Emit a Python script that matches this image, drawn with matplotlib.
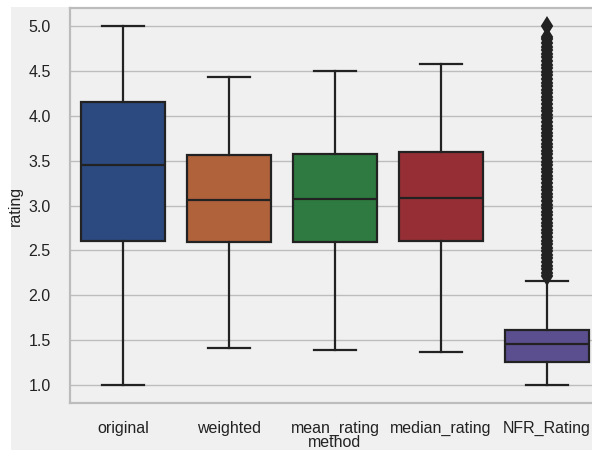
import matplotlib
matplotlib.use("Agg")
import matplotlib.pyplot as plt
from matplotlib.patches import Rectangle

plt.rcParams['font.family'] = ['Liberation Sans', 'DejaVu Sans']

# box statistics
methods = ["original", "weighted", "mean_rating", "median_rating", "NFR_Rating"]
whislo = [1.00, 1.41, 1.385, 1.363, 1.004]
q1 = [2.60, 2.59, 2.59, 2.60, 1.256]
med = [3.45, 3.056, 3.067, 3.086, 1.452]
q3 = [4.15, 3.563, 3.57, 3.60, 1.611]
whishi = [5.00, 4.43, 4.50, 4.574, 2.159]
colors = ["#2c4a80", "#b0623a", "#2e7a40", "#962f35", "#5c4f90"]

# outliers of NFR_Rating (dense column up to ~4.9, a single one at 5.0)
nfr_fliers = [2.21, 2.25, 2.29, 2.33, 2.37, 2.41, 2.45, 2.49, 2.53, 2.57,
              2.61, 2.65, 2.69, 2.73, 2.77, 2.81, 2.85, 2.89, 2.93, 2.97,
              3.01, 3.05, 3.09, 3.13, 3.17, 3.21, 3.25, 3.29, 3.33, 3.37,
              3.41, 3.45, 3.49, 3.53, 3.57, 3.61, 3.65, 3.69, 3.73, 3.77,
              3.81, 3.85, 3.89, 3.93, 3.97, 4.01, 4.05, 4.09, 4.13, 4.17,
              4.21, 4.25, 4.29, 4.33, 4.37, 4.41, 4.45, 4.49, 4.53, 4.57,
              4.61, 4.65, 4.69, 4.73, 4.77, 4.81, 4.85, 4.88, 5.00]
fliers = [[], [], [], [], nfr_fliers]

stats = []
for i in range(len(methods)):
    stats.append({"label": methods[i], "whislo": whislo[i], "q1": q1[i],
                  "med": med[i], "q3": q3[i], "whishi": whishi[i],
                  "fliers": fliers[i]})

fig = plt.figure(figsize=(5.92, 4.5), dpi=100, facecolor="white")
fig.patches.append(Rectangle((11 / 592, 0), 1, 443 / 450, transform=fig.transFigure,
                             facecolor="#f0f0f0", edgecolor="none", zorder=-10))
ax = fig.add_axes([70 / 592, 47 / 450, 530 / 592, 395 / 450])
ax.set_facecolor("#f0f0f0")

edge = "#222222"
bp = ax.bxp(stats, positions=range(len(methods)), widths=0.8, patch_artist=True,
            showfliers=True,
            boxprops=dict(edgecolor=edge, linewidth=1.6),
            whiskerprops=dict(color=edge, linewidth=1.6),
            capprops=dict(color=edge, linewidth=1.6),
            medianprops=dict(color=edge, linewidth=1.6),
            flierprops=dict(marker="d", markersize=8, markerfacecolor=edge,
                            markeredgecolor=edge, markeredgewidth=1.5,
                            linestyle="none"),
            zorder=3)
for patch, c in zip(bp["boxes"], colors):
    patch.set_facecolor(c)
for cap in bp["caps"]:
    x = cap.get_xdata()
    mid = (x[0] + x[1]) / 2
    cap.set_xdata([mid - 0.2, mid + 0.2])

ax.set_xlim(-0.5, 4.5)
ax.set_ylim(0.8, 5.2)
ax.set_yticks([1.0, 1.5, 2.0, 2.5, 3.0, 3.5, 4.0, 4.5, 5.0])
ax.set_yticklabels(["1.0", "1.5", "2.0", "2.5", "3.0", "3.5", "4.0", "4.5", "5.0"])
ax.yaxis.grid(True, color="#bdbdbd", linewidth=1.0, zorder=0)
ax.set_axisbelow(True)
ax.tick_params(axis="both", length=0, labelsize=11.5, colors="#222222")
ax.tick_params(axis="x", pad=13)
ax.tick_params(axis="y", pad=14)
for s in ax.spines.values():
    s.set_color("#bcbcbc")
    s.set_linewidth(1.6)

ax.set_xlabel("method", fontsize=11.5, color="#222222", labelpad=-1)
ax.set_ylabel("rating", fontsize=11.5, color="#222222", labelpad=4)

plt.savefig("out.png", dpi=100, facecolor=fig.get_facecolor())
